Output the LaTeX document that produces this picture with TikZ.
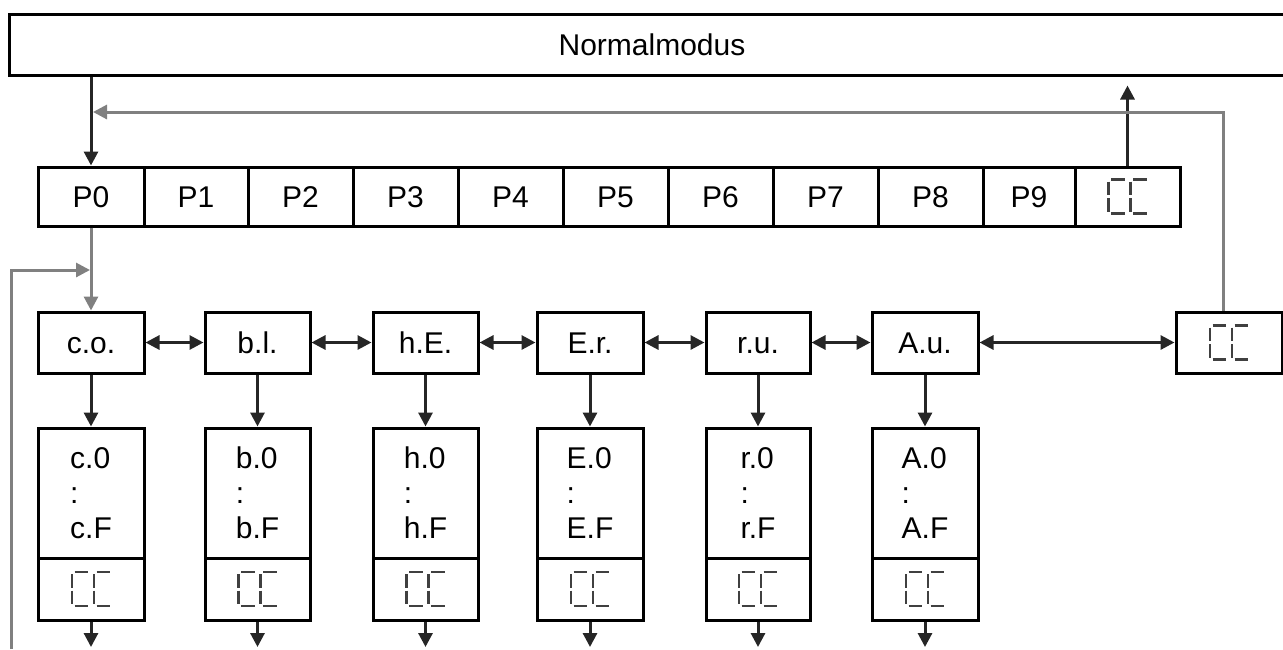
\documentclass[tikz,border=0pt]{standalone}
\usepackage{fontspec}
\setmainfont{Liberation Sans}
\usetikzlibrary{arrows.meta,calc}
\definecolor{lnk}{HTML}{262626}
\definecolor{loopc}{HTML}{808080}
\definecolor{glyphc}{HTML}{404040}
\tikzset{
  box/.style={draw=black, line width=1.5pt, inner sep=0pt, fill=white,
    font=\fontsize{15}{17.5}\selectfont},
  lbl/.style={text height=10.7pt, text depth=0pt},
  bw/.style={minimum width=0.5pt*#1},
  bh/.style={minimum height=0.5pt*#1},
  tip/.tip={Triangle[length=7pt,width=7pt]},
  conn/.style={draw=lnk, line width=1.5pt},
  loopline/.style={draw=loopc, line width=1.5pt},
  cseg/.style={draw=glyphc, line width=1.4pt},
  segC/.pic={
    \draw[cseg] (2.5,-17) -- (16,-17);
    \draw[cseg] (0,-15) -- (0,-1.5);
    \draw[cseg] (0,1.5) -- (0,15);
    \draw[cseg] (2.5,17) -- (16,17);
  },
  ccglyph/.pic={
    \pic at (-19,0) {segC};
    \pic at (3,0) {segC};
  }
}
\begin{document}
\begin{tikzpicture}[x=0.5pt,y=-0.5pt]
\useasboundingbox (0,0) rectangle (1283,649);
\clip (0,0) rectangle (1283,649);

% top box
\node[box, lbl, bw=1286, bh=61] (NM) at (652,44.5) {Normalmodus};

% P row
\node[box, lbl, bw=106, bh=59] (P0) at (91,196.5) {P0};
\node[box, lbl, bw=104, bh=59] (P1) at (196,196.5) {P1};
\node[box, lbl, bw=105, bh=59] (P2) at (300.5,196.5) {P2};
\node[box, lbl, bw=105, bh=59] (P3) at (405.5,196.5) {P3};
\node[box, lbl, bw=105, bh=59] (P4) at (510.5,196.5) {P4};
\node[box, lbl, bw=105, bh=59] (P5) at (615.5,196.5) {P5};
\node[box, lbl, bw=105, bh=59] (P6) at (720.5,196.5) {P6};
\node[box, lbl, bw=105, bh=59] (P7) at (825.5,196.5) {P7};
\node[box, lbl, bw=105, bh=59] (P8) at (930.5,196.5) {P8};
\node[box, lbl, bw=92, bh=59] (P9) at (1029,196.5) {P9};
\node[box, bw=105, bh=59] (PCC) at (1127.5,196.5) {};
\pic at (PCC) {ccglyph};

% second row
\node[box, lbl, bw=106, bh=61] (co) at (91,342.5) {c.o.};
\node[box, lbl, bw=105, bh=61] (bl) at (257.5,342.5) {b.l.};
\node[box, lbl, bw=105, bh=61] (hE) at (425.5,342.5) {h.E.};
\node[box, lbl, bw=106, bh=61] (Er) at (590,342.5) {E.r.};
\node[box, lbl, bw=104, bh=61] (ru) at (758,342.5) {r.u.};
\node[box, lbl, bw=106, bh=61] (Au) at (925,342.5) {A.u.};
\node[box, bw=106, bh=61] (CC2) at (1229,342.5) {};
\pic at (CC2) {ccglyph};

% third row
\foreach \n/\x/\w/\l in {c/91/106/c, b/257.5/105/b, h/425.5/105/h, E/590/106/E, r/758/104/r, A/925/106/A}{
  \node[box, bw=\w, bh=130, align=left] (\n3) at (\x,493) {\l.0\\:\\\l.F};
  \node[box, bw=\w, bh=62] (\n3cc) at (\x,589) {};
  \pic at (\n3cc) {ccglyph};
  \coordinate (\n3end) at (\x,647);
  \draw[conn, -tip] (\n3cc.south) -- (\n3end);
}

% top connections
\draw[conn, -tip] (NM.south -| P0.north) -- (P0.north);
\coordinate (upend) at ($(PCC.north |- NM.south)+(0,9)$);
\draw[conn, -tip] (PCC.north) -- (upend);
\coordinate (rstart) at ($(CC2.north)+(-6,0)$);
\coordinate (rcorner) at (1223,112);
\coordinate (rend) at ($(rcorner -| P0.north)+(2,0)$);
\draw[loopline, -tip] (rstart) -- (rcorner) -- (rend);

% P0 to row 2
\draw[loopline, -tip] (P0.south) -- (co.north);
\coordinate (lb) at (11,649);
\coordinate (lc) at (11,270);
\coordinate (lend) at ($(lc -| co.north)+(-1,0)$);
\draw[loopline, -tip] (lb) -- (lc) -- (lend);

% row 2 double arrows
\draw[conn, tip-tip] (co.east) -- (bl.west);
\draw[conn, tip-tip] (bl.east) -- (hE.west);
\draw[conn, tip-tip] (hE.east) -- (Er.west);
\draw[conn, tip-tip] (Er.east) -- (ru.west);
\draw[conn, tip-tip] (ru.east) -- (Au.west);
\draw[conn, tip-tip] (Au.east) -- (CC2.west);

% row 2 to row 3
\draw[conn, -tip] (co.south) -- (c3.north);
\draw[conn, -tip] (bl.south) -- (b3.north);
\draw[conn, -tip] (hE.south) -- (h3.north);
\draw[conn, -tip] (Er.south) -- (E3.north);
\draw[conn, -tip] (ru.south) -- (r3.north);
\draw[conn, -tip] (Au.south) -- (A3.north);
\end{tikzpicture}
\end{document}
